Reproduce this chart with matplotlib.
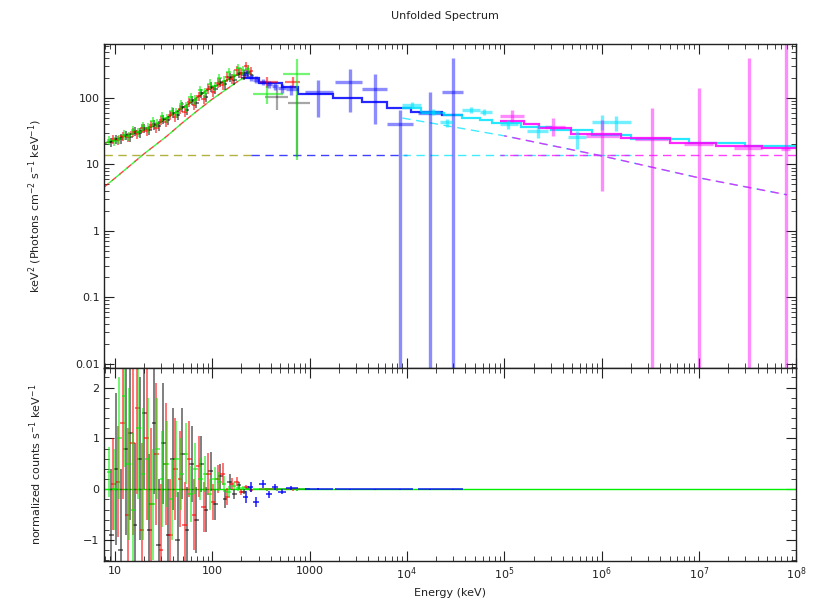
import numpy as np
import matplotlib.pyplot as plt

# ---- low energy detectors (black, red, green): bin centres, E^2 F values, residuals
blk_E = [9.2, 10.3, 11.5, 12.9, 14.4, 16.1, 18.0, 20.1, 22.5, 25.2, 28.2, 31.5, 35.2, 39.4, 44.1,
         49.3, 55.1, 61.7, 69.0, 77.2, 86.3, 96.5, 108, 121, 135, 151, 169, 189, 211, 236]
blk_val = [21.5, 24, 24.5, 27.5, 26, 31.5, 30, 35, 33, 40, 38.5, 48, 46, 60, 55,
           74, 66, 92, 84, 118, 104, 148, 135, 175, 160, 205, 190, 240, 225, 250]
blk_res = [-0.9, 0.4, -1.2, 0.8, 1.1, -0.7, 0.6, 1.5, -0.8, 1.3, -1.1, 0.9, -0.9, 0.6, -1.0,
           0.7, -0.8, 0.5, -0.6, 0.5, -0.4, 0.35, -0.3, 0.25, -0.2, 0.15, -0.1, 0.08, -0.05, 0.03]
blk_rerr = [1.3, 1.5, 1.6, 1.7, 1.7, 1.6, 1.6, 1.5, 1.5, 1.4, 1.3, 1.2, 1.1, 1.0, 0.95,
            0.9, 0.85, 0.75, 0.65, 0.55, 0.45, 0.38, 0.3, 0.24, 0.18, 0.14, 0.1, 0.07, 0.05, 0.03]

red_E = [9.6, 10.8, 12.1, 13.6, 15.2, 17.0, 19.0, 21.3, 23.8, 26.6, 29.8, 33.3, 37.3, 41.7, 46.6,
         52.1, 58.3, 65.2, 72.9, 81.5, 91.2, 102, 114, 128, 143, 160, 179, 200, 224, 250]
red_val = [24, 23, 27, 25.5, 31, 28.5, 35, 32, 39, 36, 46, 43, 55, 52, 68,
           62, 86, 78, 108, 96, 138, 125, 170, 158, 210, 195, 265, 240, 300, 255]
red_res = [0.1, 0.15, 1.3, -0.5, 0.9, 1.6, -0.8, 1.0, -0.3, 0.7, -1.2, 0.5, -0.9, 0.4, 0.2,
           -0.7, 0.6, -0.5, 0.45, -0.35, 0.3, -0.25, 0.2, 0.3, -0.15, 0.1, 0.15, -0.05, 0.04, -0.02]
red_rerr = [0.9, 1.1, 1.5, 1.7, 1.8, 1.7, 1.7, 1.6, 1.5, 1.4, 1.3, 1.2, 1.1, 1.0, 0.95,
            0.85, 0.75, 0.7, 0.6, 0.5, 0.42, 0.35, 0.28, 0.22, 0.17, 0.12, 0.09, 0.06, 0.04, 0.03]

grn_E = [8.8, 9.9, 11.1, 12.4, 13.9, 15.5, 17.4, 19.5, 21.8, 24.4, 27.3, 30.6, 34.2, 38.3, 42.9,
         48.0, 53.7, 60.1, 67.3, 75.3, 84.3, 94.3, 106, 118, 132, 148, 166, 186, 208, 232]
grn_val = [23, 22.5, 24, 28, 27, 33, 31, 38, 36, 45, 42, 53, 50, 64, 60,
           80, 74, 102, 95, 130, 120, 165, 150, 200, 182, 245, 225, 285, 260, 270]
grn_res = [0.34, 0.0, 1.0, 1.84, 0.5, -0.4, 1.2, 0.3, 0.6, -0.3, 0.8, 0.2, 0.5, -0.2, 0.6,
           0.3, 0.7, -0.1, 0.4, 0.2, 0.3, -0.1, 0.2, 0.15, 0.1, -0.05, 0.06, 0.03, 0.02, 0.01]
grn_rerr = [0.5, 0.8, 1.2, 1.4, 1.5, 1.5, 1.4, 1.3, 1.2, 1.1, 1.0, 0.95, 0.85, 0.8, 0.75,
            0.7, 0.6, 0.55, 0.5, 0.42, 0.35, 0.3, 0.24, 0.19, 0.15, 0.11, 0.08, 0.06, 0.04, 0.03]
REL_ERR = 0.16

# wide high-energy bins of the low energy detectors: E, Elo, Ehi, val, vlo, vhi
blk_wide = [(463, 350, 600, 103, 67, 140), (740, 600, 1000, 85, 13, 110)]
red_wide = [(370, 300, 480, 172, 140, 205), (680, 560, 800, 172, 140, 205)]
grn_wide = [(370, 260, 530, 115, 80, 150), (740, 530, 1000, 233, 11.5, 390)]

# ---- blue detector
blu_E = [220, 250, 285, 330, 380, 440, 520, 650, 1220, 2600, 4700, 8500, 17400, 30000]
blu_lo = [205, 235, 265, 305, 355, 410, 480, 580, 890, 1830, 3470, 6200, 13000, 23000]
blu_hi = [235, 265, 305, 355, 410, 480, 580, 760, 1730, 3470, 6200, 11500, 23000, 38000]
blu_val = [230, 205, 190, 175, 160, 150, 140, 135, 122, 172, 136, 40, 60, 122]
blu_vlo = [200, 180, 168, 155, 142, 132, 120, 112, 51, 62, 40, 0.005, 0.005, 0.005]
blu_vhi = [260, 230, 212, 195, 178, 168, 160, 158, 190, 275, 233, 67, 122, 400]
blu_res = [-0.15, 0.05, -0.25, 0.1, -0.1, 0.05, -0.05, 0.03, 0.0, 0.0, 0.0, 0.0, 0.0, 0.0]
blu_rerr = [0.12, 0.1, 0.1, 0.08, 0.07, 0.06, 0.05, 0.04, 0.02, 0.01, 0.01, 0.01, 0.01, 0.01]
blu_mod_edges = [200, 300, 520, 760, 1730, 3470, 6200, 11000, 23000, 38000]
blu_mod = [200, 170, 145, 115, 100, 87, 71, 62, 55]

# ---- cyan detector
cyn_E = [11200, 18400, 26000, 46000, 62000, 1.1e5, 2.2e5, 5.6e5, 1.0e6, 1.4e6]
cyn_lo = [9000, 14000, 22000, 37000, 57000, 9e4, 1.7e5, 4.5e5, 8e5, 1.2e6]
cyn_hi = [14000, 22000, 30000, 57000, 75000, 1.4e5, 2.8e5, 7e5, 1.2e6, 2e6]
cyn_val = [79, 62, 43, 67, 62, 40, 32, 26, 44, 43]
cyn_vlo = [70, 55, 37, 60, 56, 34, 25, 17, 33, 32]
cyn_vhi = [88, 69, 49, 74, 68, 46, 39, 32, 55, 54]
cyn_mod_edges = [9000, 14000, 24000, 37000, 57000, 75000, 1.5e5, 3e5, 8e5, 2e6, 8e6, 3e7, 1e8]
cyn_mod = [72, 60, 55, 50, 46, 42, 37, 33, 28, 24, 21, 19]

# ---- magenta detector
mag_E = [1.2e5, 3.2e5, 1.0e6, 3.3e6, 1.0e7, 3.3e7, 7.8e7]
mag_lo = [9e4, 2.6e5, 7e5, 2.2e6, 7e6, 2.3e7, 7e7]
mag_hi = [1.6e5, 4.2e5, 1.5e6, 4.8e6, 1.4e7, 4.5e7, 8.6e7]
mag_val = [54, 37, 27, 24, 20, 18, 17]
mag_vlo = [44, 27, 4, 0.005, 0.005, 0.005, 0.005]
mag_vhi = [67, 50, 47, 71, 140, 400, 900]
mag_mod_edges = [9e4, 1.6e5, 2.3e5, 4.8e5, 1.6e6, 5e6, 1.5e7, 4.5e7, 1e8]
mag_mod = [45, 40, 36, 29, 25, 21, 19, 18]

# ---- model: total at low energies, flat component, peaked component
lo_mod_E = [7.8, 9, 12, 20, 27, 40, 59, 88, 128, 170, 207, 240, 260]
lo_mod = [21, 22, 26, 33, 40, 58, 84, 131, 172, 215, 240, 235, 220]
FLAT = 14
cut_lo_E = [7.8, 10, 20, 34, 50, 70, 100, 140, 180, 220]
cut_lo = [4.6, 6.2, 14.5, 26.5, 43, 64, 96, 135, 175, 210]
cut_hi_E = [9000, 1e5, 1e6, 1e7, 8e7]
cut_hi = [50, 27, 13.5, 6.3, 3.5]

XMIN, XMAX = 7.8, 1e8


def log_edges(c):
    c = np.asarray(c, float)
    mid = np.sqrt(c[1:] * c[:-1])
    first = c[0] ** 2 / mid[0]
    last = c[-1] ** 2 / mid[-1]
    return np.concatenate([[first], mid, [last]])


def binned(ax, ax2, E, val, res, rerr, col, a=0.55):
    E = np.asarray(E, float)
    val = np.asarray(val, float)
    ed = log_edges(E)
    xerr = [E - ed[:-1], ed[1:] - E]
    ax.errorbar(E, val, xerr=xerr, yerr=REL_ERR * val, fmt='none', ecolor=col,
                elinewidth=1.4, alpha=a)
    ax2.errorbar(E, res, xerr=xerr, yerr=rerr, fmt='none', ecolor=col,
                 elinewidth=1.4, alpha=a)


def wide(ax, ax2, rows, col, a=0.55):
    for e, lo, hi, v, vlo, vhi in rows:
        ax.errorbar([e], [v], xerr=[[e - lo], [hi - e]], yerr=[[v - vlo], [vhi - v]],
                    fmt='none', ecolor=col, elinewidth=1.6, alpha=a)
        ax2.errorbar([e], [0.0], xerr=[[e - lo], [hi - e]], yerr=[[0.03], [0.03]],
                     fmt='none', ecolor=col, elinewidth=1.4, alpha=a)


def points(ax, ax2, E, lo, hi, val, vlo, vhi, col, res=None, rerr=None, a=0.45):
    E = np.asarray(E, float)
    val = np.asarray(val, float)
    xerr = [E - np.asarray(lo), np.asarray(hi) - E]
    yerr = [val - np.asarray(vlo), np.asarray(vhi) - val]
    ax.errorbar(E, val, xerr=xerr, yerr=yerr, fmt='none', ecolor=col,
                elinewidth=2.4, alpha=a)
    if res is not None:
        ax2.errorbar(E, res, xerr=xerr, yerr=rerr, fmt='none', ecolor=col,
                     elinewidth=1.4, alpha=0.7)


fig = plt.figure(figsize=(8.15, 6.03), dpi=100)
ax = fig.add_axes([0.128, 0.390, 0.849, 0.537])
ax2 = fig.add_axes([0.128, 0.070, 0.849, 0.320], sharex=ax)

BLK, RED, GRN = 'black', '#ff0000', '#00ee00'
BLU, CYN, MAG = '#0000ff', '#00e5ff', '#ff00ff'

# model lines first
for col in (BLK, RED, GRN):
    ax.plot(lo_mod_E, lo_mod, color=col, lw=1.0, alpha=0.8)
ax.stairs(blu_mod, blu_mod_edges, color=BLU, lw=1.6, alpha=0.85, baseline=None)
ax.stairs(cyn_mod, cyn_mod_edges, color=CYN, lw=1.6, alpha=0.85, baseline=None)
ax.stairs(mag_mod, mag_mod_edges, color=MAG, lw=1.6, alpha=0.85, baseline=None)

dash = dict(lw=1.0, alpha=0.75)
ax.plot([XMIN, 250], [FLAT, FLAT], color='#999900', ls=(0, (6, 4)), **dash)
ax.plot([250, 1e4], [FLAT, FLAT], color=BLU, ls=(0, (6, 4)), **dash)
ax.plot([9000, 2e6], [FLAT, FLAT], color=CYN, ls=(0, (6, 4)), **dash)
ax.plot([9e4, XMAX], [FLAT, FLAT], color=MAG, ls=(3, (6, 4)), **dash)
ax.plot(cut_lo_E, cut_lo, color=RED, ls=(0, (4, 3)), **dash)
ax.plot(cut_lo_E, cut_lo, color=GRN, ls=(3, (4, 3)), **dash)
ax.plot(cut_hi_E, cut_hi, color=CYN, ls=(0, (6, 4)), **dash)
ax.plot(cut_hi_E[1:], cut_hi[1:], color=MAG, ls=(4, (6, 4)), **dash)

# residual zero line
ax2.plot([XMIN, XMAX], [0, 0], color=GRN, lw=1.0)

# data
binned(ax, ax2, blk_E, blk_val, blk_res, blk_rerr, BLK, a=0.5)
binned(ax, ax2, red_E, red_val, red_res, red_rerr, RED)
binned(ax, ax2, grn_E, grn_val, grn_res, grn_rerr, GRN)
wide(ax, ax2, blk_wide, BLK, a=0.35)
wide(ax, ax2, red_wide, RED)
wide(ax, ax2, grn_wide, GRN)
points(ax, ax2, blu_E, blu_lo, blu_hi, blu_val, blu_vlo, blu_vhi, BLU, blu_res, blu_rerr)
points(ax, ax2, cyn_E, cyn_lo, cyn_hi, cyn_val, cyn_vlo, cyn_vhi, CYN, a=0.55)
points(ax, ax2, mag_E, mag_lo, mag_hi, mag_val, mag_vlo, mag_vhi, MAG)

ax.set_xscale('log')
ax.set_yscale('log')
ax.set_xlim(XMIN, XMAX)
ax.set_ylim(0.0087, 650)
ax2.set_ylim(-1.41, 2.39)

ax.set_yticks([0.01, 0.1, 1, 10, 100])
ax.set_yticklabels(['0.01', '0.1', '1', '10', '100'])
ax2.set_yticks([-1, 0, 1, 2])
ax2.set_yticklabels(['\u22121', '0', '1', '2'])
ax2.set_xticks([10, 100, 1000, 1e4, 1e5, 1e6, 1e7, 1e8])
ax2.set_xticklabels(['10', '100', '1000', r'$10^4$', r'$10^5$', r'$10^6$', r'$10^7$', r'$10^8$'])
ax2.yaxis.set_minor_locator(plt.MultipleLocator(0.2))
plt.setp(ax.get_xticklabels(), visible=False)

for a in (ax, ax2):
    a.tick_params(which='both', direction='in', top=True, right=True, labelsize=8,
                  colors='#222222')
    a.tick_params(which='major', length=7)
    a.tick_params(which='minor', length=3.5)
    for s in a.spines.values():
        s.set_linewidth(1.0)
        s.set_color('#222222')

ax.set_ylabel(r'keV$^2$ (Photons cm$^{-2}$ s$^{-1}$ keV$^{-1}$)', fontsize=8, color='#222222')
ax2.set_ylabel(r'normalized counts s$^{-1}$ keV$^{-1}$', fontsize=8, color='#222222')
ax2.set_xlabel('Energy (keV)', fontsize=8, color='#222222')
ax.yaxis.set_label_coords(-0.087, 0.5)
ax2.yaxis.set_label_coords(-0.087, 0.5)
fig.text(0.546, 0.973, 'Unfolded Spectrum', ha='center', va='center', fontsize=8, color='#222222')

fig.savefig('out.png', dpi=100)
